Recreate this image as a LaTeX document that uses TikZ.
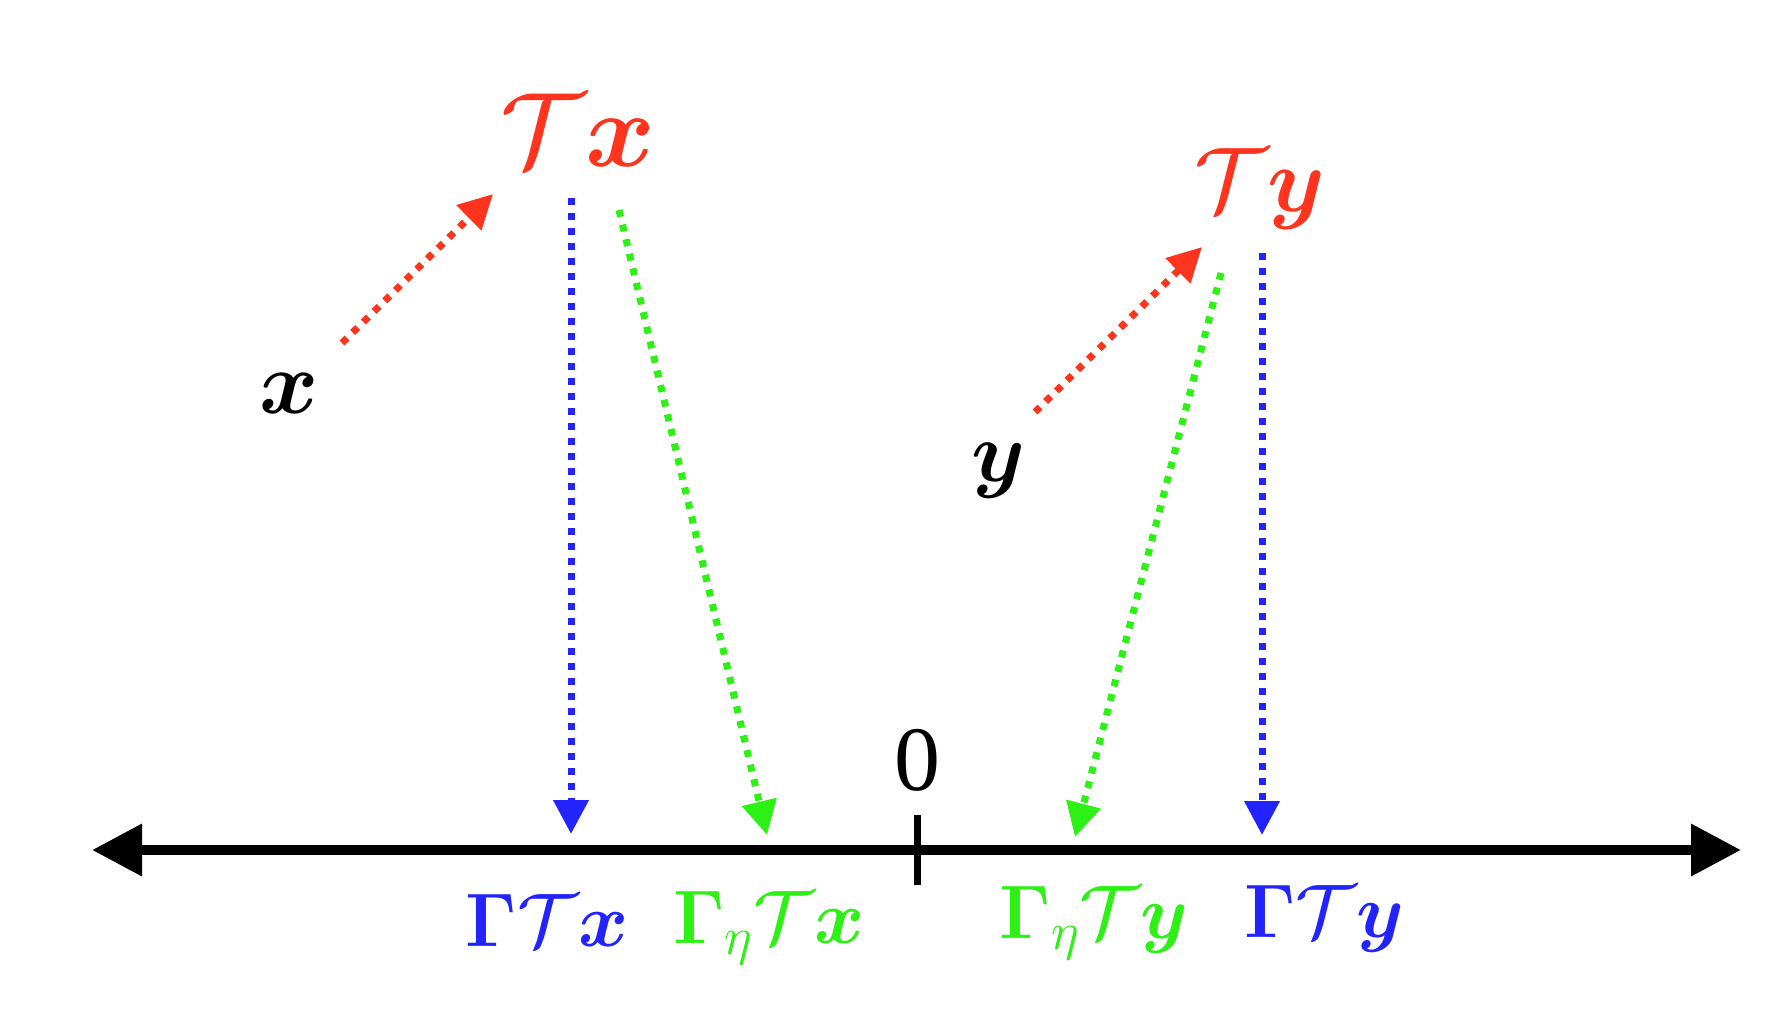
\RequirePackage{fix-cm}
\documentclass[tikz,border=0pt]{standalone}
\usepackage[no-math]{fontspec}
\usepackage{amsmath,bm}
\usetikzlibrary{arrows.meta}
\newfontfamily\zerofont{Liberation Serif}
\definecolor{myred}{RGB}{255,52,30}
\definecolor{myblue}{RGB}{35,35,255}
\definecolor{mygreen}{RGB}{45,240,20}
\newcommand\fsz[1]{\fontsize{#1}{#1}\selectfont}
\tikzset{
  lbl/.style={anchor=base, inner sep=0pt},
  dotarrow/.style={line width=3.5pt, dash pattern=on 3.5pt off 4pt,
    -{Triangle[length=17pt,width=17pt]}},
  axisline/.style={line width=5pt, {Triangle[length=25pt,width=25pt]}-{Triangle[length=25pt,width=25pt]}}
}
\begin{document}
\begin{tikzpicture}[x=0.5pt,y=-0.5pt]
\useasboundingbox (0,0) rectangle (1782,1024);
% labels
\node[lbl, font=\fsz{53}, text=myred] (Tx) at (578,166) {$\mathcal{T}\bm{x}$};
\node[lbl, font=\fsz{46}, text=myred] (Ty) at (1260,211) {$\mathcal{T}\bm{y}$};
\node[lbl, font=\fsz{45}] (x) at (289,413) {$\bm{x}$};
\node[lbl, font=\fsz{43}] (y) at (998,481) {$\bm{y}$};
\node[lbl, font=\zerofont\fsz{46}] (zero) at (917,790) {0};
\node[lbl, font=\fsz{38}, text=myblue] (GTx) at (547,946) {$\bm{\Gamma}\mathcal{T}\bm{x}$};
\node[lbl, font=\fsz{38}, text=mygreen] (GeTx) at (769,943) {$\bm{\Gamma}_{\eta}\mathcal{T}\bm{x}$};
\node[lbl, font=\fsz{38}, text=mygreen] (GeTy) at (1094,938) {$\bm{\Gamma}_{\eta}\mathcal{T}\bm{y}$};
\node[lbl, font=\fsz{38}, text=myblue] (GTy) at (1324,937) {$\bm{\Gamma}\mathcal{T}\bm{y}$};
% coordinates
\coordinate (axL) at (92,850);
\coordinate (axR) at (1741,850);
\coordinate (tkT) at (917,815);
\coordinate (tkB) at (917,885);
\coordinate (xs) at (342,343);
\coordinate (xe) at (493,194);
\coordinate (ys) at (1035,412);
\coordinate (ye) at (1202,247);
\coordinate (bxs) at (571,198);
\coordinate (bxe) at (571,834);
\coordinate (gxs) at (619,210);
\coordinate (gxe) at (767,835);
\coordinate (gys) at (1221,273);
\coordinate (gye) at (1075,837);
\coordinate (bys) at (1262,253);
\coordinate (bye) at (1262,835);
% axis
\draw[axisline] (axL) -- (axR);
\draw[line width=3.5pt] (tkT) -- (tkB);
% arrows
\draw[dotarrow, myred] (xs) -- (xe);
\draw[dotarrow, myred] (ys) -- (ye);
\draw[dotarrow, myblue] (bxs) -- (bxe);
\draw[dotarrow, mygreen] (gxs) -- (gxe);
\draw[dotarrow, mygreen] (gys) -- (gye);
\draw[dotarrow, myblue] (bys) -- (bye);
\end{tikzpicture}
\end{document}
